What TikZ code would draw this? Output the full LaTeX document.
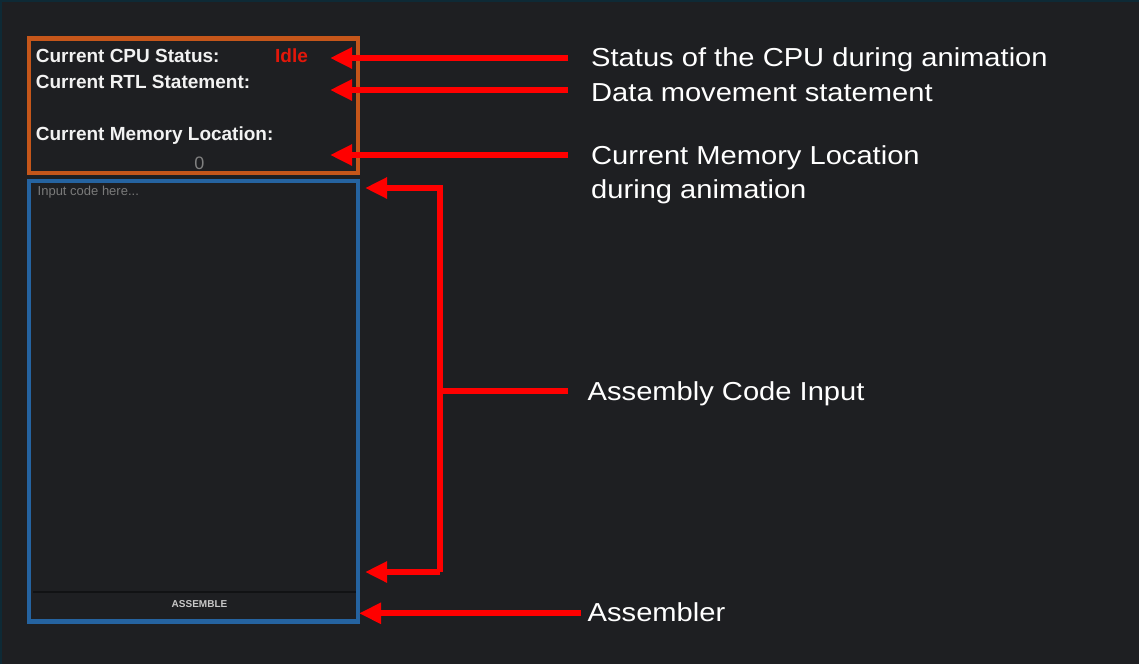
\documentclass[tikz,border=0pt]{standalone}
\usepackage{fontspec}
\usetikzlibrary{arrows.meta}
\newfontfamily\uifont{Liberation Sans}
\newfontfamily\labelfont{Liberation Sans}[FakeStretch=1.12]
\definecolor{bgc}{HTML}{1E1F22}
\definecolor{edgec}{HTML}{0E2A36}
\definecolor{boxorange}{HTML}{C5561A}
\definecolor{boxblue}{HTML}{2563A0}
\definecolor{arrowred}{HTML}{FF0000}
\definecolor{idlered}{HTML}{E3170A}
\definecolor{hintgrey}{HTML}{7A7A7A}
\definecolor{zerogrey}{HTML}{808080}
\definecolor{btngrey}{HTML}{C8C8C8}
\definecolor{sepline}{HTML}{111214}
\tikzset{
  uitext/.style={inner sep=0pt, anchor=base west, text=white!95!black, font=\uifont\bfseries\fontsize{19}{22}\selectfont},
  rlabel/.style={inner sep=0pt, anchor=base west, text=white, font=\labelfont\fontsize{26}{30}\selectfont},
  redarrow/.style={draw=arrowred, line width=6pt, line join=miter, -{Triangle[length=22pt,width=20pt]}},
  redline/.style={draw=arrowred, line width=6pt},
  panelbox/.style={line width=4.5pt}
}
\begin{document}
\begin{tikzpicture}[x=1pt,y=-1pt]
\useasboundingbox (0,0) rectangle (1139,664);
\fill[bgc] (0,0) rectangle (1139,664);
\draw[edgec, line width=2pt] (1,664) -- (1,1) -- (1139,1);

% panels
\draw[panelbox, boxorange] (29,38.5) rectangle (358,173);
\draw[panelbox, boxblue] (29,181) rectangle (358,621.5);
\draw[sepline, line width=1.5pt] (33,592) -- (356,592);

% panel texts
\node[uitext] (cpu) at (35.7,62.3) {Current CPU Status:};
\node[uitext, text=idlered] (idle) at (275,62.3) {Idle};
\node[uitext] (rtl) at (35.7,88) {Current RTL Statement:};
\node[uitext] (mem) at (35.7,140.7) {Current Memory Location:};
\node[inner sep=0pt, anchor=base, text=zerogrey, font=\uifont\fontsize{18}{20}\selectfont] (zero) at (199.5,169) {0};
\node[inner sep=0pt, anchor=base west, text=hintgrey, font=\uifont\fontsize{13}{15}\selectfont] (hint) at (37.5,195.5) {Input code here...};
\node[inner sep=0pt, anchor=base, text=btngrey, font=\uifont\bfseries\fontsize{10}{12}\selectfont] (asm) at (199.5,607.3) {ASSEMBLE};

% right labels
\node[rlabel] (l1) at (591,66) {Status of the CPU during animation};
\node[rlabel] (l2) at (591,101) {Data movement statement};
\node[rlabel] (l3) at (591,164) {Current Memory Location};
\node[rlabel] (l3b) at (591,198) {during animation};
\node[rlabel] (l4) at (587.5,400) {Assembly Code Input};
\node[rlabel] (l5) at (587.5,621.7) {Assembler};

% arrow coordinates
\coordinate (s1) at (568,58);   \coordinate (t1) at (330,58);
\coordinate (s2) at (568,90);   \coordinate (t2) at (330,90);
\coordinate (s3) at (568,155);  \coordinate (t3) at (330,155);
\coordinate (s4) at (568,390.5);\coordinate (m4) at (440,390.5);
\coordinate (c2) at (440,572);
\coordinate (t4) at (365,188);  \coordinate (t5) at (365,572);
\coordinate (s6) at (581,613.3);\coordinate (t6) at (359,613.3);

\draw[redarrow] (s1) -- (t1);
\draw[redarrow] (s2) -- (t2);
\draw[redarrow] (s3) -- (t3);
\draw[redarrow] (c2) |- (t4);
\draw[redarrow] (c2) -- (t5);
\draw[redline] (s4) -- (m4);
\draw[redarrow] (s6) -- (t6);
\end{tikzpicture}
\end{document}
